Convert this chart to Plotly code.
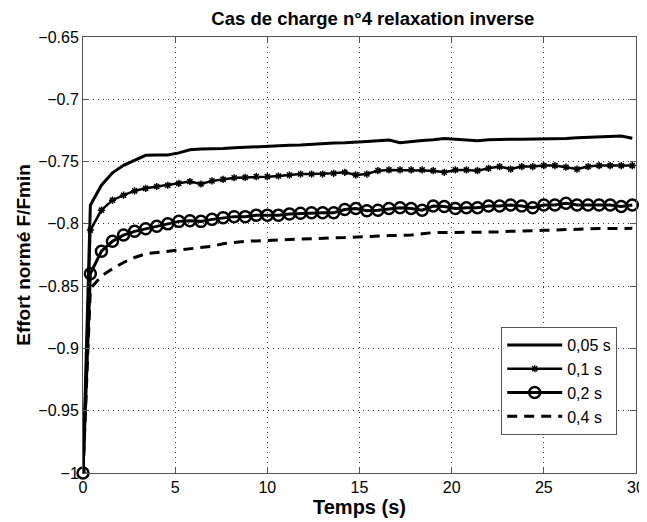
"""Cas de charge n°4 - relaxation inverse (Plotly recreation)."""

import plotly.graph_objects as go

# sampling times (s)
temps = [0, 0.4, 1.0, 1.6, 2.2, 2.8, 3.4, 4.0, 4.6, 5.2, 5.8, 6.4, 7.0, 7.6, 8.2,
         8.8, 9.4, 10.0, 10.6, 11.2, 11.8, 12.4, 13.0, 13.6, 14.2, 14.8, 15.4,
         16.0, 16.6, 17.2, 17.8, 18.4, 19.0, 19.6, 20.2, 20.8, 21.4, 22.0, 22.6,
         23.2, 23.8, 24.4, 25.0, 25.6, 26.2, 26.8, 27.4, 28.0, 28.6, 29.2, 29.8]

effort_005 = [-1, -0.785, -0.769, -0.759, -0.753, -0.749, -0.745, -0.7447, -0.7447,
              -0.743, -0.7405, -0.740, -0.740, -0.7395, -0.739, -0.7385, -0.7378,
              -0.7375, -0.737, -0.7368, -0.7367, -0.736, -0.7355, -0.735, -0.7348,
              -0.734, -0.7338, -0.7333, -0.7327, -0.7348, -0.7338, -0.733, -0.7325,
              -0.7315, -0.732, -0.7328, -0.7332, -0.7325, -0.732, -0.732, -0.732,
              -0.732, -0.732, -0.732, -0.7315, -0.7308, -0.7305, -0.7303, -0.730,
              -0.7295, -0.7313]

effort_01 = [-1, -0.805, -0.789, -0.781, -0.777, -0.7735, -0.7715, -0.770, -0.769,
             -0.7675, -0.766, -0.768, -0.7655, -0.7643, -0.763, -0.7627, -0.7621,
             -0.7621, -0.7616, -0.7608, -0.760, -0.760, -0.760, -0.7594, -0.7586,
             -0.7607, -0.760, -0.7573, -0.7567, -0.7567, -0.7567, -0.7567, -0.7573,
             -0.7586, -0.7567, -0.7567, -0.7573, -0.7554, -0.754, -0.756, -0.754,
             -0.754, -0.7532, -0.7532, -0.7545, -0.756, -0.754, -0.7532, -0.7532,
             -0.7532, -0.7532]

effort_02 = [-1, -0.840, -0.822, -0.814, -0.809, -0.806, -0.804, -0.802, -0.800,
             -0.798, -0.7975, -0.798, -0.7964, -0.795, -0.7942, -0.7942, -0.793,
             -0.793, -0.793, -0.792, -0.7915, -0.791, -0.791, -0.791, -0.7885,
             -0.7877, -0.7894, -0.789, -0.7877, -0.787, -0.7877, -0.789, -0.7857,
             -0.786, -0.7877, -0.787, -0.787, -0.7857, -0.7857, -0.7848, -0.7857,
             -0.787, -0.7848, -0.7848, -0.7835, -0.7848, -0.7848, -0.7848, -0.7848,
             -0.786, -0.7848]

effort_04 = [-1, -0.852, -0.842, -0.836, -0.831, -0.827, -0.824, -0.823, -0.8223,
             -0.821, -0.8198, -0.819, -0.818, -0.816, -0.815, -0.814, -0.8137,
             -0.8133, -0.813, -0.8125, -0.8118, -0.8116, -0.8114, -0.8112, -0.811,
             -0.8105, -0.810, -0.8097, -0.8094, -0.8092, -0.809, -0.808, -0.807,
             -0.807, -0.807, -0.807, -0.807, -0.8068, -0.8065, -0.806, -0.806,
             -0.8056, -0.8052, -0.8048, -0.8044, -0.8042, -0.804, -0.8038, -0.8037,
             -0.8036, -0.8036]

x_ticks = [0, 5, 10, 15, 20, 25, 30]
y_ticks = [-1, -0.95, -0.9, -0.85, -0.8, -0.75, -0.7, -0.65]
y_labels = ["\u22121", "\u22120.95", "\u22120.9", "\u22120.85", "\u22120.8",
            "\u22120.75", "\u22120.7", "\u22120.65"]

FONT = "Liberation Sans, Arial, sans-serif"

fig = go.Figure()
fig.add_trace(go.Scatter(x=temps, y=effort_005, name="0,05 s", mode="lines",
                         line=dict(color="black", width=3)))
fig.add_trace(go.Scatter(x=temps, y=effort_01, name="0,1 s", mode="lines+markers",
                         line=dict(color="black", width=2.5),
                         marker=dict(symbol="asterisk-open", size=6,
                                     line=dict(color="black", width=1.5))))
fig.add_trace(go.Scatter(x=temps, y=effort_02, name="0,2 s", mode="lines+markers",
                         line=dict(color="black", width=3),
                         marker=dict(symbol="circle-open", size=11,
                                     line=dict(color="black", width=2.5)),
                         cliponaxis=False))
fig.add_trace(go.Scatter(x=temps, y=effort_04, name="0,4 s", mode="lines",
                         line=dict(color="black", width=3, dash="10px,7px")))

axis_common = dict(
    showline=True, linecolor="#555", linewidth=1, mirror="ticks",
    ticks="inside", ticklen=6, tickcolor="#555",
    showgrid=True, gridcolor="#333", gridwidth=1, griddash="1px,4px",
    zeroline=False, automargin=False,
    tickfont=dict(family=FONT, size=16, color="black"),
)

fig.update_xaxes(range=[0, 30], tickvals=x_ticks,
                 title=dict(text="<b>Temps (s)</b>", standoff=0,
                            font=dict(family=FONT, size=20, color="black")),
                 **axis_common)
fig.update_yaxes(range=[-1, -0.65], tickvals=y_ticks, ticktext=y_labels,
                 title=dict(text="<b>Effort normé F/Fmin</b>", standoff=2,
                            font=dict(family=FONT, size=19, color="black")),
                 **axis_common)

# the page body adds an 8px offset, so the figure is 8px smaller than the window
fig.update_layout(
    width=639, height=514,
    margin=dict(l=75, r=11, t=29, b=49),
    paper_bgcolor="white", plot_bgcolor="white",
    title=dict(text="<b>Cas de charge n°4 relaxation inverse</b>",
               x=0.571, xanchor="center", y=0.993, yanchor="top",
               pad=dict(t=0, b=0),
               font=dict(family=FONT, size=18.5, color="black")),
    legend=dict(x=0.966, y=0.087, xanchor="right", yanchor="bottom",
                bgcolor="white", bordercolor="#555", borderwidth=1,
                font=dict(family=FONT, size=16, color="black"),
                itemwidth=55, tracegroupgap=0),
    showlegend=True,
)

fig.write_html("out.html")
